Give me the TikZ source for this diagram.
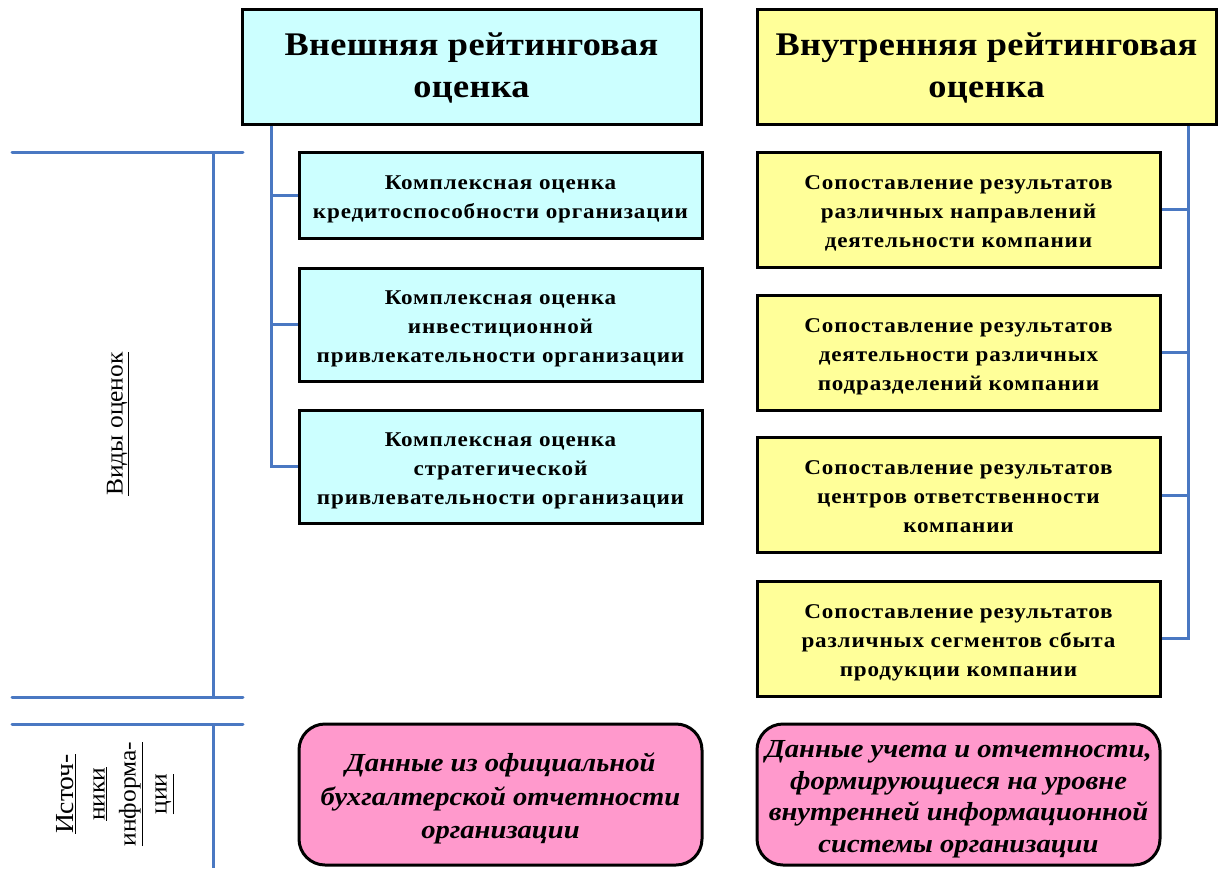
\documentclass[tikz,border=0pt]{standalone}
\usepackage{fontspec}
\setmainfont{Liberation Serif}
\newfontfamily\boxfont[FakeStretch=1.1,LetterSpace=4]{Liberation Serif}
\newfontfamily\titfont[FakeStretch=1.1,LetterSpace=1]{Liberation Serif}
\newfontfamily\srcfont[FakeStretch=1.1]{Liberation Serif}
\newfontfamily\sidefont[FakeStretch=1.06]{Liberation Serif}
\usetikzlibrary{calc}
\definecolor{cyanfill}{HTML}{CCFFFF}
\definecolor{yelfill}{HTML}{FFFF99}
\definecolor{pinkfill}{HTML}{FF99CC}
\definecolor{linkblue}{HTML}{4A78C2}
\newcommand\lwr[2]{\raisebox{-#1}[\height][\depth]{\begin{tabular}{@{}c@{}}#2\end{tabular}}}
\tikzset{
  x=1pt,y=-1pt,
  titlebox/.style={draw=black,line width=3pt,minimum width=459pt,minimum height=115pt,inner sep=0pt,
    font=\titfont\fontsize{33}{42}\selectfont\bfseries},
  itembox/.style={draw=black,line width=3pt,minimum width=403pt,inner sep=0pt,
    font=\boxfont\fontsize{21}{29}\selectfont\bfseries},
  srcbox/.style={draw=black,line width=3pt,rounded corners=26pt,minimum width=403pt,minimum height=141pt,inner sep=0pt,fill=pinkfill,
    font=\srcfont\fontsize{26}{33.5}\selectfont\bfseries\itshape},
  conn/.style={draw=linkblue,line width=3pt},
  sidelabel/.style={rotate=90,align=center,inner sep=0pt,font=\sidefont\fontsize{24}{31}\selectfont}
}
\begin{document}
\begin{tikzpicture}
\useasboundingbox (0,0) rectangle (1221,868);
% title boxes
\node[titlebox,fill=cyanfill] (lt) at (471.5,66.5) {\lwr{2pt}{Внешняя рейтинговая\\оценка}};
\node[titlebox,fill=yelfill] (rt) at (986.5,66.5) {\lwr{2pt}{Внутренняя рейтинговая\\оценка}};
% left items
\node[itembox,fill=cyanfill,minimum height=86pt] (l1) at (500.5,195) {\lwr{3pt}{Комплексная оценка\\кредитоспособности организации}};
\node[itembox,fill=cyanfill,minimum height=113pt] (l2) at (500.5,324.5) {\lwr{3pt}{Комплексная оценка\\инвестиционной\\привлекательности организации}};
\node[itembox,fill=cyanfill,minimum height=113pt] (l3) at (500.5,466.5) {\lwr{3pt}{Комплексная оценка\\стратегической\\привлевательности организации}};
% right items
\node[itembox,fill=yelfill,minimum height=115pt] (r1) at (958.5,209.5) {\lwr{3pt}{Сопоставление результатов\\различных направлений\\деятельности компании}};
\node[itembox,fill=yelfill,minimum height=115pt] (r2) at (958.5,352.5) {\lwr{3pt}{Сопоставление результатов\\деятельности различных\\подразделений компании}};
\node[itembox,fill=yelfill,minimum height=115pt] (r3) at (958.5,495) {\lwr{3pt}{Сопоставление результатов\\центров ответственности\\компании}};
\node[itembox,fill=yelfill,minimum height=115pt] (r4) at (958.5,638.5) {\lwr{3pt}{Сопоставление результатов\\различных сегментов сбыта\\продукции компании}};
% sources
\node[srcbox] (s1) at (500.5,794.5) {\lwr{4pt}{Данные из официальной\\бухгалтерской отчетности\\организации}};
\node[srcbox,font=\srcfont\fontsize{26}{31.5}\selectfont\bfseries\itshape] (s2) at (958.5,794.5) {\lwr{4pt}{Данные учета и отчетности,\\формирующиеся на уровне\\внутренней информационной\\системы организации}};
% connectors
\coordinate (lx) at (271,0);
\coordinate (rx) at (1188,0);
\draw[conn] (lt.south -| lx) |- (l3.west);
\draw[conn] (l1.west -| lx) -- (l1.west);
\draw[conn] (l2.west -| lx) -- (l2.west);
\draw[conn] (rt.south -| rx) |- (r4.east);
\draw[conn] (r1.east -| rx) -- (r1.east);
\draw[conn] (r2.east -| rx) -- (r2.east);
\draw[conn] (r3.east -| rx) -- (r3.east);
% side brackets
\coordinate (a1) at (12,152);
\coordinate (a2) at (243,152);
\coordinate (b1) at (12,697);
\coordinate (b2) at (243,697);
\coordinate (c1) at (12,724);
\coordinate (c2) at (243,724);
\coordinate (v1) at (213,152);
\coordinate (v2) at (213,697);
\coordinate (v3) at (213,724);
\coordinate (v4) at (213,868);
\draw[conn,line cap=round] (a1) -- (a2);
\draw[conn,line cap=round] (b1) -- (b2);
\draw[conn,line cap=round] (c1) -- (c2);
\draw[conn] (v1) -- (v2);
\draw[conn] (v3) -- (v4);
\node[sidelabel] (vid) at (118,424) {\underline{Виды оценок}};
\node[sidelabel] (ist) at (115,794) {{\fontsize{26}{31}\selectfont\underline{Источ-}}\\\underline{ники}\\\underline{информа-}\\\underline{ции}};
\end{tikzpicture}
\end{document}
